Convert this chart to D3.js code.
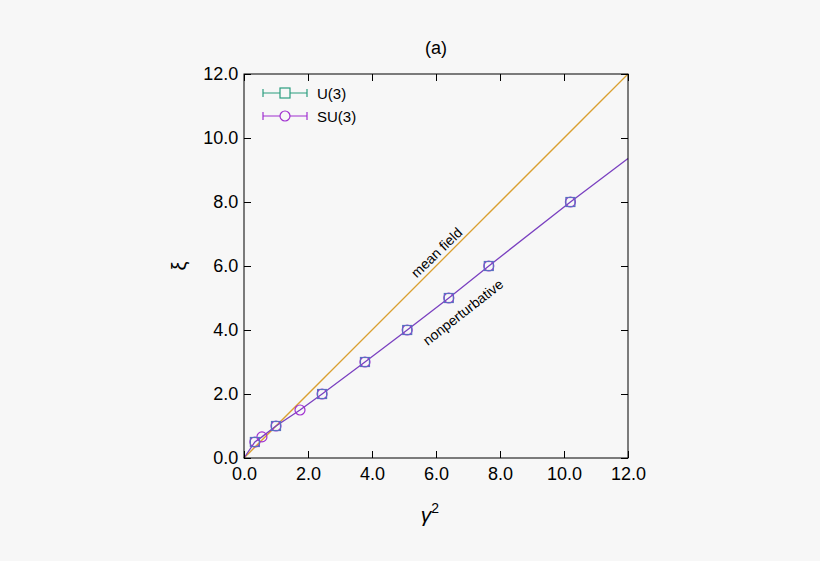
<!DOCTYPE html><html><head><meta charset="utf-8"><script src="https://cdn.jsdelivr.net/npm/d3@7"></script>
<style>body{margin:0;background:#f7f7f7}text{font-family:"Liberation Sans",Arial,sans-serif}</style></head><body>
<svg id="c" width="820" height="561"></svg>
<script>
const u3x=[0.34,1.0,2.44,3.78,5.1,6.4,7.65,10.2];
const u3y=[0.5,1.0,2.0,3.0,4.0,5.0,6.0,8.0];
const su3x=[0.34,0.56,1.0,1.75,2.44,3.78,5.1,6.4,7.65,10.2];
const su3y=[0.5,0.66,1.0,1.5,2.0,3.0,4.0,5.0,6.0,8.0];
const lineX=[0,0.34,0.56,1.0,1.75,2.44,3.78,5.1,6.4,7.65,10.2,12];
const lineY=[0,0.5,0.66,1.0,1.5,2.0,3.0,4.0,5.0,6.0,8.0,9.36];
const ticks=[0,2,4,6,8,10,12];
const svg=d3.select("#c");
svg.append("rect").attr("width",820).attr("height",561).attr("fill","#f7f7f7");
const x=d3.scaleLinear().domain([0,12]).range([244,628]);
const y=d3.scaleLinear().domain([0,12]).range([458,74]);
const g=svg.append("g");
g.append("line").attr("x1",x(0)).attr("y1",y(0)).attr("x2",x(12)).attr("y2",y(12)).attr("stroke","#daa030").attr("stroke-width",1.3);
g.append("path").attr("d",d3.line()(lineX.map((v,i)=>[x(v),y(lineY[i])]))).attr("fill","none").attr("stroke","#7a40c0").attr("stroke-width",1.3);
su3x.forEach((v,i)=>g.append("circle").attr("cx",x(v)).attr("cy",y(su3y[i])).attr("r",5).attr("fill","none").attr("stroke","#a030d0").attr("stroke-width",1.2));
u3x.forEach((v,i)=>g.append("rect").attr("x",x(v)-4.5).attr("y",y(u3y[i])-4.5).attr("width",9).attr("height",9).attr("fill","none").attr("stroke","#5a70c0").attr("stroke-width",1.2));
svg.append("rect").attr("x",244).attr("y",74).attr("width",384).attr("height",384).attr("fill","none").attr("stroke","#000").attr("stroke-width",1);
const xa=svg.append("g").attr("transform","translate(0,458)").call(d3.axisBottom(x).tickValues(ticks).tickFormat(d3.format(".1f")).tickSizeInner(-7).tickSizeOuter(0));
const ya=svg.append("g").attr("transform","translate(244,0)").call(d3.axisLeft(y).tickValues(ticks).tickFormat(d3.format(".1f")).tickSizeInner(-7).tickSizeOuter(0));
svg.append("g").attr("transform","translate(0,74)").call(d3.axisTop(x).tickValues(ticks).tickFormat("").tickSizeInner(-7).tickSizeOuter(0));
svg.append("g").attr("transform","translate(628,0)").call(d3.axisRight(y).tickValues(ticks).tickFormat("").tickSizeInner(-7).tickSizeOuter(0));
svg.selectAll(".domain").remove();
xa.selectAll("text").attr("font-size",18).attr("dy","1.05em").attr("fill","#000");
ya.selectAll("text").attr("font-size",18).attr("dx","-0.15em").attr("fill","#000");
svg.append("text").attr("x",436).attr("y",54).attr("text-anchor","middle").attr("font-size",18).text("(a)");
svg.append("text").attr("x",430).attr("y",522).attr("text-anchor","middle").attr("font-size",21).attr("font-style","italic").text("γ").append("tspan").attr("dy",-9).attr("font-size",14).attr("font-style","normal").text("2");
svg.append("text").attr("x",180).attr("y",272).attr("text-anchor","middle").attr("font-size",20).attr("transform","rotate(-90,180,266)").text("ξ");
svg.append("text").attr("x",440).attr("y",256).attr("text-anchor","middle").attr("font-size",14).attr("transform","rotate(-44,440,256)").text("mean field");
svg.append("text").attr("x",466).attr("y",316).attr("text-anchor","middle").attr("font-size",14).attr("transform","rotate(-38,466,316)").text("nonperturbative");
const leg=[["U(3)","#2a9d7f","sq",93],["SU(3)","#a030d0","ci",116]];
leg.forEach(([t,c,s,yy])=>{
svg.append("line").attr("x1",263).attr("x2",307).attr("y1",yy).attr("y2",yy).attr("stroke",c).attr("stroke-width",1.2);
[263,307].forEach(xx=>svg.append("line").attr("x1",xx).attr("x2",xx).attr("y1",yy-4).attr("y2",yy+4).attr("stroke",c).attr("stroke-width",1.2));
if(s=="sq")svg.append("rect").attr("x",280).attr("y",yy-5).attr("width",10).attr("height",10).attr("fill","#f7f7f7").attr("stroke",c).attr("stroke-width",1.2);
else svg.append("circle").attr("cx",285).attr("cy",yy).attr("r",5).attr("fill","#f7f7f7").attr("stroke",c).attr("stroke-width",1.2);
svg.append("text").attr("x",317).attr("y",yy+6).attr("font-size",15).text(t);
});
</script></body></html>
